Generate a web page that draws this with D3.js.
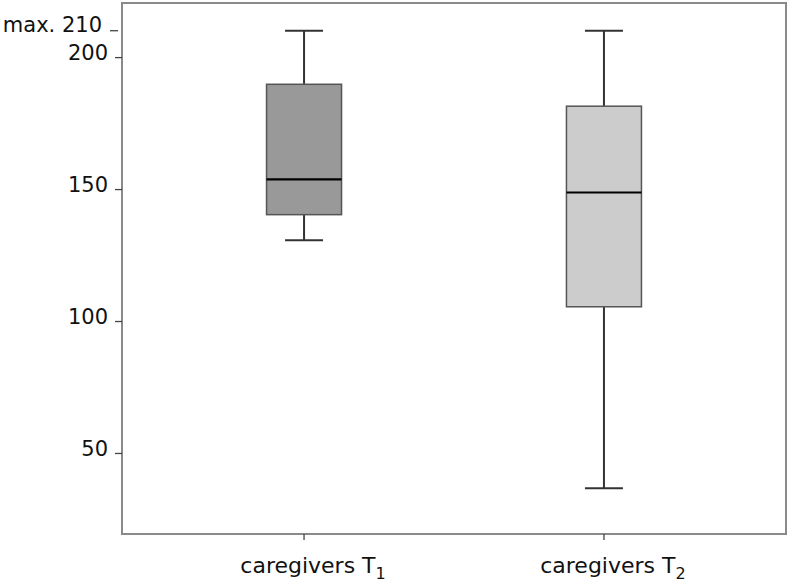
<!DOCTYPE html>
<html>
<head>
<meta charset="utf-8">
<script src="https://cdn.jsdelivr.net/npm/d3@7"></script>
<style>
  html, body { margin: 0; padding: 0; background: #fff; }
  svg { display: block; }
  text { font-family: "DejaVu Sans", sans-serif; fill: #111; }
</style>
</head>
<body>
<svg id="chart" width="792" height="583"></svg>
<script>
// ---- data ----
const categories = ["caregivers T", "caregivers T"];
const subscripts = ["1", "2"];
const whiskerMin = [130.6, 36.6];
const q1 = [140.3, 105.4];
const median = [153.7, 148.7];
const q3 = [189.7, 181.4];
const whiskerMax = [210, 210];
const boxFills = ["#999999", "#cccccc"];
const yTickValues = [50, 100, 150, 200];
const maxTickValue = 210;
const maxTickLabel = "max. 210";

// ---- layout ----
const plotLeft = 122, plotRight = 786, plotTop = 3, plotBottom = 534;

const svg = d3.select("#chart");

const y = d3.scaleLinear().domain([19.3, 220.5]).range([plotBottom, plotTop]);
const idx = categories.map((d, i) => i);
const x = d3.scalePoint().domain(idx).range([plotLeft, plotRight]).padding(0.607);

const boxW = 75, capW = 38;
const lineCol = "#333";
const fs = 21;

// frame
svg.append("rect")
  .attr("x", plotLeft).attr("y", plotTop)
  .attr("width", plotRight - plotLeft).attr("height", plotBottom - plotTop)
  .attr("fill", "none").attr("stroke", "#8a8a8a").attr("stroke-width", 2);

// y axis
const yAxis = d3.axisLeft(y).tickValues(yTickValues).tickSize(7).tickPadding(7)
  .tickFormat(d3.format("d"));
const gy = svg.append("g").attr("transform", `translate(${plotLeft},0)`).call(yAxis);
gy.select(".domain").remove();
gy.selectAll(".tick line").attr("stroke", "#444").attr("stroke-width", 1.3);
gy.selectAll(".tick text").attr("font-size", fs).attr("dy", "0.1em")
  .style("font-family", "DejaVu Sans, sans-serif").attr("fill", "#111");

// max tick
const gm = svg.append("g").attr("transform", `translate(0,${y(maxTickValue)})`);
gm.append("line").attr("x1", plotLeft - 12).attr("x2", plotLeft - 4)
  .attr("stroke", "#444").attr("stroke-width", 1.3);
gm.append("text").attr("x", plotLeft - 20).attr("dy", "0.05em")
  .attr("text-anchor", "end").attr("font-size", fs).text(maxTickLabel);

// x axis ticks
const gx = svg.append("g").attr("transform", `translate(0,${plotBottom})`);
gx.selectAll("line").data(idx).join("line")
  .attr("x1", d => x(d)).attr("x2", d => x(d))
  .attr("y1", 0).attr("y2", 6).attr("stroke", "#444").attr("stroke-width", 1.3);
const xl = gx.selectAll("text").data(idx).join("text")
  .attr("x", d => x(d) + 9).attr("y", 39)
  .attr("text-anchor", "middle").attr("font-size", 22);
xl.append("tspan").text(d => categories[d]);
xl.append("tspan").attr("font-size", 16).attr("dy", 6).text(d => subscripts[d]);

// boxes
const g = svg.append("g");
idx.forEach(i => {
  const cx = x(i);
  g.append("line").attr("x1", cx).attr("x2", cx)
    .attr("y1", y(whiskerMax[i])).attr("y2", y(q3[i]))
    .attr("stroke", lineCol).attr("stroke-width", 2);
  g.append("line").attr("x1", cx).attr("x2", cx)
    .attr("y1", y(q1[i])).attr("y2", y(whiskerMin[i]))
    .attr("stroke", lineCol).attr("stroke-width", 2);
  g.append("line").attr("x1", cx - capW / 2).attr("x2", cx + capW / 2)
    .attr("y1", y(whiskerMax[i])).attr("y2", y(whiskerMax[i]))
    .attr("stroke", lineCol).attr("stroke-width", 2);
  g.append("line").attr("x1", cx - capW / 2).attr("x2", cx + capW / 2)
    .attr("y1", y(whiskerMin[i])).attr("y2", y(whiskerMin[i]))
    .attr("stroke", lineCol).attr("stroke-width", 2);
  g.append("rect").attr("x", cx - boxW / 2).attr("width", boxW)
    .attr("y", y(q3[i])).attr("height", y(q1[i]) - y(q3[i]))
    .attr("fill", boxFills[i]).attr("stroke", "#555").attr("stroke-width", 1.5);
  g.append("line").attr("x1", cx - boxW / 2).attr("x2", cx + boxW / 2)
    .attr("y1", y(median[i])).attr("y2", y(median[i]))
    .attr("stroke", "#000").attr("stroke-width", 2.2);
});
</script>
</body>
</html>
